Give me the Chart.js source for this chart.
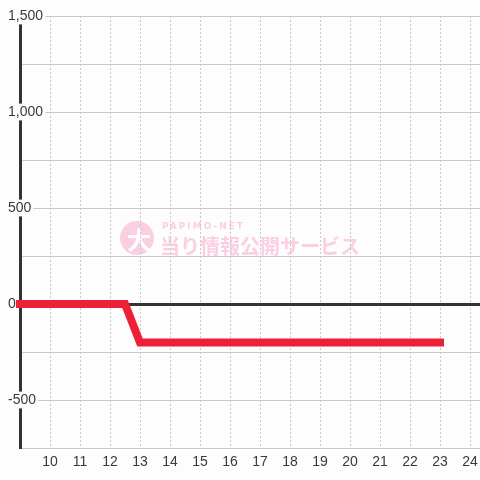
<!DOCTYPE html>
<html>
<head>
<meta charset="utf-8">
<script src="https://cdn.jsdelivr.net/npm/chart.js@4/dist/chart.umd.min.js"></script>
<style>
html,body{margin:0;padding:0;background:#fdfdfd;}
#wrap{width:480px;height:480px;}
</style>
</head>
<body>
<div id="wrap"><canvas id="c" width="480" height="480"></canvas></div>
<script>
const xValues = [9, 12.5, 13, 23];
const yValues = [0, 0, -200, -200];
const xTicks = [10, 11, 12, 13, 14, 15, 16, 17, 18, 19, 20, 21, 22, 23, 24];
const yTicks = [1500, 1250, 1000, 750, 500, 250, 0, -250, -500, -750];
const yLabelTicks = [1500, 1000, 500, 0, -500];

const watermark = {
  id: 'watermark',
  beforeDraw(chart) {
    const ctx = chart.ctx;
    ctx.save();
    ctx.fillStyle = '#fdfdfd';
    ctx.fillRect(0, 0, chart.width, chart.height);
    ctx.fillStyle = '#fbcfe2';
    ctx.beginPath();
    ctx.arc(137, 238, 17, 0, Math.PI * 2);
    ctx.fill();
    ctx.fillStyle = '#ffffff';
    ctx.font = 'bold 24px "Noto Sans CJK JP"';
    ctx.textAlign = 'center';
    ctx.textBaseline = 'middle';
    ctx.fillText('大', 139, 240);
    ctx.fillStyle = '#fbcfe2';
    ctx.textAlign = 'left';
    ctx.font = 'bold 9px "DejaVu Sans"';
    if ('letterSpacing' in ctx) ctx.letterSpacing = '2px';
    ctx.fillText('PAPIMO-NET', 162, 227);
    if ('letterSpacing' in ctx) ctx.letterSpacing = '0px';
    ctx.font = 'bold 20px "Noto Sans CJK JP"';
    ctx.fillText('当り情報公開サービス', 160, 246);
    ctx.restore();
  }
};

new Chart(document.getElementById('c'), {
  type: 'line',
  data: {
    datasets: [{
      data: xValues.map((x, i) => ({ x: x, y: yValues[i] })),
      borderColor: '#ee2035',
      borderWidth: 8,
      borderCapStyle: 'square',
      borderJoinStyle: 'miter',
      pointRadius: 0,
      pointHoverRadius: 0,
      tension: 0,
      fill: false,
      clip: 5
    }]
  },
  options: {
    responsive: false,
    animation: false,
    layout: { autoPadding: false, padding: { top: 16, left: 0, right: 0, bottom: 0 } },
    plugins: { legend: { display: false }, tooltip: { enabled: false } },
    events: [],
    scales: {
      x: {
        type: 'linear',
        min: 9,
        max: 24 + 1 / 3,
        afterBuildTicks: s => { s.ticks = xTicks.map(v => ({ value: v })); },
        afterFit: s => { s.height = 32; s.paddingLeft = 0; s.paddingRight = 0; },
        grid: {
          color: '#c8c8c8',
          lineWidth: 1,
          drawTicks: false
        },
        border: { display: false, dash: [2, 2] },
        ticks: {
          color: '#3a3a3a',
          font: { family: 'Liberation Sans, Arial', size: 14 },
          padding: 6,
          maxRotation: 0,
          autoSkip: false
        }
      },
      y: {
        min: -750,
        max: 1500,
        afterBuildTicks: s => { s.ticks = yTicks.map(v => ({ value: v })); },
        afterFit: s => { s.width = 20; s.paddingTop = 0; s.paddingBottom = 0; },
        grid: {
          color: ctx => (ctx.tick && ctx.tick.value === 0) ? '#333333' : '#c8c8c8',
          lineWidth: ctx => (ctx.tick && ctx.tick.value === 0) ? 3 : 1,
          drawTicks: false
        },
        border: { display: true, color: '#333333', width: 3 },
        ticks: {
          mirror: true,
          crossAlign: 'near',
          padding: -12,
          color: '#3a3a3a',
          font: { family: 'Liberation Sans, Arial', size: 14 },
          showLabelBackdrop: ctx => yLabelTicks.includes(ctx.tick.value),
          backdropColor: '#fdfdfd',
          backdropPadding: { top: 0, bottom: 0, left: 2, right: 2 },
          callback: v => yLabelTicks.includes(v) ? v.toLocaleString('en-US') : ''
        }
      }
    }
  },
  plugins: [watermark]
});
</script>
</body>
</html>
